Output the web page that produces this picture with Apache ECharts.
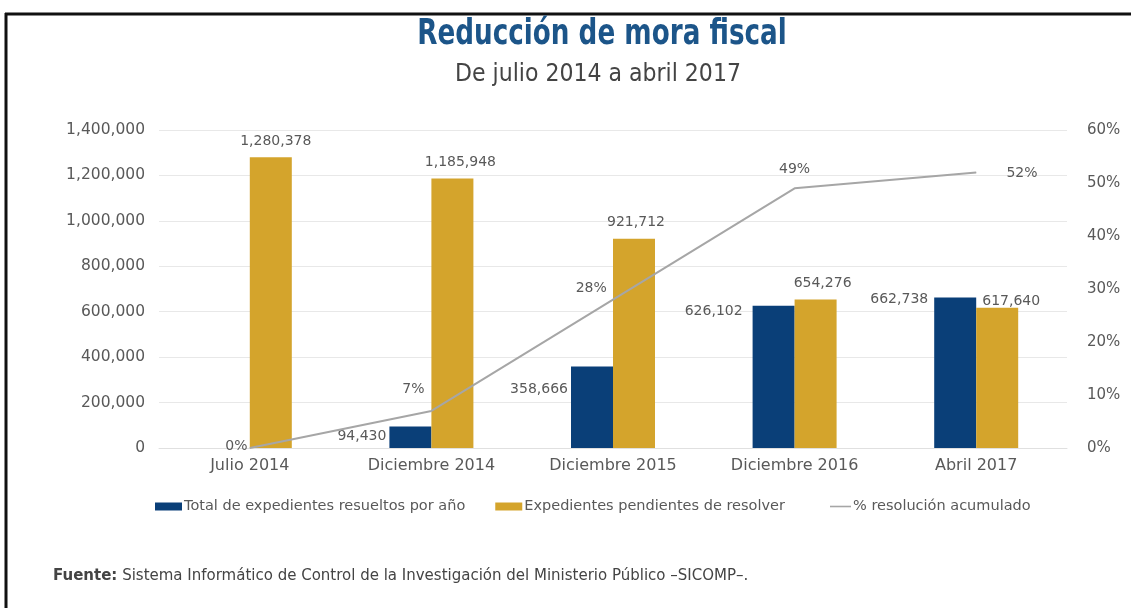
<!DOCTYPE html>
<html>
<head>
<meta charset="utf-8">
<script src="https://cdn.jsdelivr.net/npm/echarts@6/dist/echarts.min.js"></script>
<style>
  html, body { margin: 0; padding: 0; background: #fff; }
  #chart { width: 1131px; height: 608px; }
</style>
</head>
<body>
<div id="chart"></div>
<script>
// Periods shown on the category axis
const categories = ['Julio 2014', 'Diciembre 2014', 'Diciembre 2015', 'Diciembre 2016', 'Abril 2017'];
// Cases resolved per year
const resueltos = [0, 94430, 358666, 626102, 662738];
// Cases still pending
const pendientes = [1280378, 1185948, 921712, 654276, 617640];
// Accumulated resolution rate (%)
const resolucion = [0, 7, 28, 49, 52];

const seriesNames = [
  'Total de expedientes resueltos por año',
  'Expedientes pendientes de resolver',
  '% resolución acumulado'
];

const fmt = v => v.toLocaleString('en-US');

// Label placement tweaks for the individual marks
const blueLabelOffsets = [[0, 0], [-3, 10], [-3, 23], [-10, 6], [-6, 2]];
const goldLabelOffsets = [[5, 0], [8, 0], [2, 0], [7, 0], [14, 10]];
const lineLabelPlacement = [
  { position: 'left', distance: 2, offset: [0, -2] },
  { position: 'top', distance: 14, offset: [-18, 0] },
  { position: 'left', distance: 6, offset: [0, -11] },
  { position: 'top', distance: 12, offset: [0, 0] },
  { position: 'right', distance: 30, offset: [0, 1] }
];

const blueData = resueltos.map((v, i) => ({
  value: v,
  label: {
    show: v !== 0,
    position: [blueLabelOffsets[i][0], blueLabelOffsets[i][1]],
    align: 'right',
    verticalAlign: 'middle'
  }
}));

const goldData = pendientes.map((v, i) => ({
  value: v,
  label: { offset: goldLabelOffsets[i] }
}));

const lineData = resolucion.map((v, i) => ({
  value: v,
  label: lineLabelPlacement[i]
}));

const FONT = 'DejaVu Sans, Verdana, sans-serif';
const labelText = { fontFamily: FONT, fontSize: 14, color: '#595959' };
const legendText = { fontFamily: FONT, fontSize: 14.5, color: '#595959', padding: [0, 0, 0, -3] };

const chart = echarts.init(document.getElementById('chart'), null, { renderer: 'canvas' });

chart.setOption({
  backgroundColor: '#ffffff',
  animation: false,
  grid: { left: 159, right: 64, top: 130, bottom: 160 },
  legend: [
    {
      left: 150,
      top: 494,
      itemWidth: 27,
      itemHeight: 8,
      itemGap: 30,
      textStyle: legendText,
      data: [
        { name: seriesNames[0], icon: 'rect' },
        { name: seriesNames[1], icon: 'rect' }
      ]
    },
    {
      left: 825,
      top: 494,
      itemWidth: 21,
      itemHeight: 8,
      textStyle: legendText,
      data: [
        { name: seriesNames[2], icon: 'path://M0,0 L40,0 L40,3 L0,3 Z' }
      ]
    }
  ],
  xAxis: {
    type: 'category',
    data: categories,
    axisTick: { show: false },
    axisLine: { lineStyle: { color: '#e0e0e0' } },
    axisLabel: { fontFamily: FONT, fontSize: 16, color: '#595959', margin: 10 }
  },
  yAxis: [
    {
      type: 'value',
      min: 0,
      max: 1400000,
      interval: 200000,
      axisLine: { show: false },
      axisTick: { show: false },
      splitLine: { lineStyle: { color: '#e8e8e8' } },
      axisLabel: { ...labelText, fontSize: 15.5, margin: 14, formatter: v => fmt(v) }
    },
    {
      type: 'value',
      min: 0,
      max: 60,
      interval: 10,
      axisLine: { show: false },
      axisTick: { show: false },
      splitLine: { show: false },
      axisLabel: { ...labelText, fontSize: 15, margin: 20, formatter: v => v + '%' }
    }
  ],
  series: [
    {
      name: seriesNames[0],
      type: 'bar',
      barWidth: 42,
      barGap: '0%',
      itemStyle: { color: '#0a3f78' },
      label: { show: true, ...labelText, formatter: p => fmt(p.value) },
      data: blueData
    },
    {
      name: seriesNames[1],
      type: 'bar',
      barWidth: 42,
      barGap: '0%',
      itemStyle: { color: '#d4a42c' },
      label: { show: true, position: 'top', distance: 9, ...labelText, formatter: p => fmt(p.value) },
      data: goldData
    },
    {
      name: seriesNames[2],
      type: 'line',
      yAxisIndex: 1,
      symbol: 'circle',
      symbolSize: 0.5,
      showSymbol: true,
      smooth: false,
      lineStyle: { color: '#a6a6a6', width: 2 },
      itemStyle: { color: '#a6a6a6' },
      label: { show: true, ...labelText, formatter: p => p.value + '%' },
      data: lineData,
      z: 5
    }
  ],
  graphic: [
    // frame: top rule and left rule
    { type: 'line', shape: { x1: 5, y1: 14, x2: 1131, y2: 14 }, style: { stroke: '#111', lineWidth: 3 } },
    { type: 'line', shape: { x1: 6, y1: 13, x2: 6, y2: 608 }, style: { stroke: '#111', lineWidth: 3 } },
    // heading, set in a narrow bold face
    {
      type: 'text',
      x: 602,
      y: 35,
      scaleX: 0.81,
      style: {
        x: 0,
        y: 0,
        text: 'Reducción de mora fiscal',
        textAlign: 'center',
        textVerticalAlign: 'middle',
        fontFamily: 'DejaVu Sans Condensed, DejaVu Sans, sans-serif',
        fontSize: 36,
        fontWeight: 'bold',
        fill: '#1c5589'
      }
    },
    {
      type: 'text',
      x: 598,
      y: 75,
      style: {
        x: 0,
        y: 0,
        text: 'De julio 2014 a abril 2017',
        textAlign: 'center',
        textVerticalAlign: 'middle',
        fontFamily: 'DejaVu Sans Condensed, DejaVu Sans, sans-serif',
        fontSize: 24.5,
        fill: '#444444'
      }
    },
    {
      type: 'text',
      left: 53,
      top: 569,
      style: {
        text: '{b|Fuente:} Sistema Informático de Control de la Investigación del Ministerio Público –SICOMP–.',
        fontFamily: FONT,
        fontSize: 15,
        fill: '#444',
        rich: {
          b: { fontFamily: FONT, fontSize: 15, fontWeight: 'bold', color: '#222' }
        }
      }
    }
  ]
});
</script>
</body>
</html>
